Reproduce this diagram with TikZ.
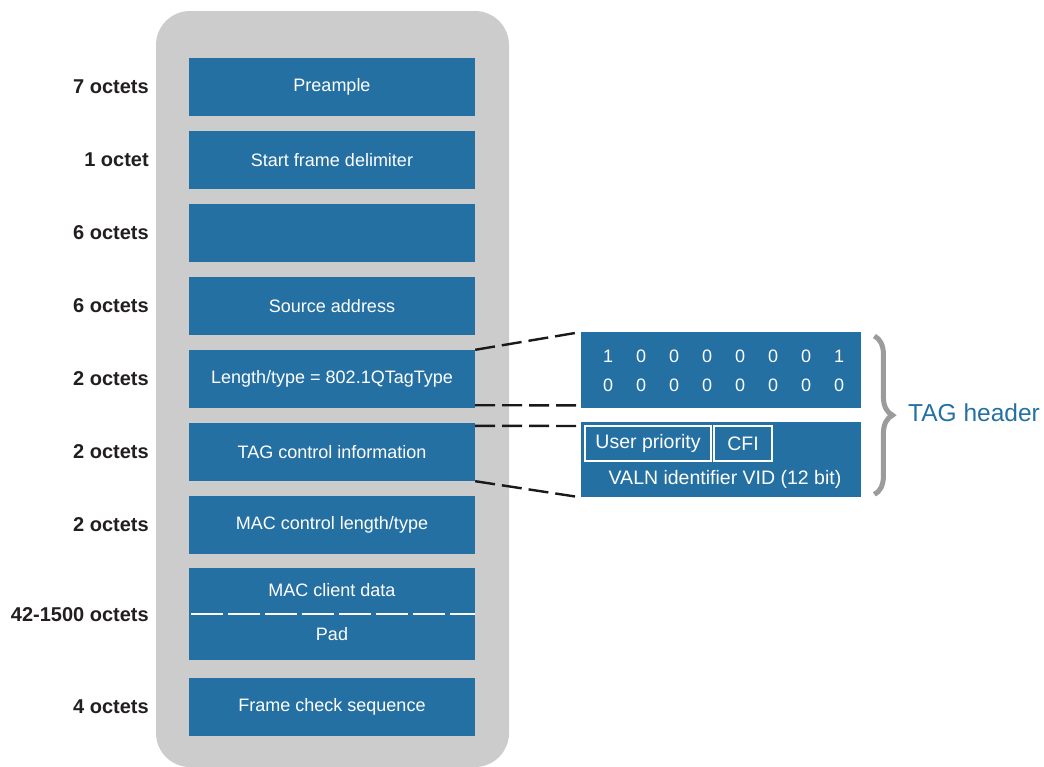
\documentclass[tikz,border=0pt]{standalone}
\usepackage{fontspec}
\setmainfont{Liberation Sans}
\usetikzlibrary{decorations.pathreplacing}
\definecolor{frameblue}{RGB}{37,112,162}
\definecolor{panelgray}{RGB}{204,204,204}
\definecolor{bracegray}{RGB}{155,155,155}
\definecolor{labeltext}{RGB}{35,31,32}
\tikzset{
  field/.style={fill=frameblue, text=white, inner sep=0pt, minimum width=286pt,
    minimum height=58pt, font=\fontsize{18}{21}\selectfont},
  fieldtext/.style={text=white, inner sep=0pt, font=\fontsize{18}{21}\selectfont},
  sizelabel/.style={anchor=east, inner sep=0pt, text=labeltext,
    font=\fontsize{20}{24}\bfseries},
  tagbox/.style={fill=frameblue, inner sep=0pt, minimum width=280pt, anchor=north west},
  tagtext/.style={text=white, inner sep=0pt, font=\fontsize{19.5}{22}\selectfont},
  subfield/.style={draw=white, line width=2pt, fill=frameblue, text=white, inner sep=0pt,
    anchor=north west, minimum height=35pt, font=\fontsize{19.5}{22}\selectfont},
  zoomline/.style={black!90, line width=2.4pt, dash pattern=on 20pt off 7pt},
}
\begin{document}
\begin{tikzpicture}[x=1pt,y=-1pt]
\useasboundingbox (0,0) rectangle (1044,766);

% frame background
\fill[panelgray, rounded corners=34pt] (156,11) rectangle (509,767);

% frame fields
\node[field] (pre) at (332,87) {Preample};
\node[field] (sfd) at (332,160) {Start frame delimiter};
\node[field] (dst) at (332,233) {};
\node[field] (src) at (332,306) {Source address};
\node[field] (len) at (332,379) {Length/type = 802.1QTagType};
\node[field] (tci) at (332,452) {TAG control information};
\node[field] (mct) at (332,525) {MAC control length/type};
\node[field, minimum height=92pt] (data) at (332,614) {};
\node[fieldtext] (datatxt) at (332,590) {MAC client data};
\node[fieldtext] (padtxt) at (332,634) {Pad};
\draw[white, line width=2pt, dash pattern=on 32pt off 5pt]
  ([xshift=2pt]data.west) -- (data.east);
\node[field] (fcs) at (332,707) {Frame check sequence};

% field sizes
\node[sizelabel] (l1) at (149,87) {7 octets};
\node[sizelabel] (l2) at (149,160) {1 octet};
\node[sizelabel] (l3) at (149,233) {6 octets};
\node[sizelabel] (l4) at (149,306) {6 octets};
\node[sizelabel] (l5) at (149,379) {2 octets};
\node[sizelabel] (l6) at (149,452) {2 octets};
\node[sizelabel] (l7) at (149,525) {2 octets};
\node[sizelabel] (l8) at (149,615) {42-1500 octets};
\node[sizelabel] (l9) at (149,707) {4 octets};

% expanded TAG header
\node[tagbox, minimum height=76pt] (tpid) at (581,332) {};
\foreach \b [count=\i from 0] in {1,0,0,0,0,0,0,1}
  \node[tagtext, font=\fontsize{18}{20}\selectfont] (hi\i) at (608+33*\i,356) {\b};
\foreach \b [count=\i from 0] in {0,0,0,0,0,0,0,0}
  \node[tagtext, font=\fontsize{18}{20}\selectfont] (lo\i) at (608+33*\i,385) {\b};

\node[tagbox, minimum height=75pt] (tcibox) at (581,422) {};
\node[subfield, minimum width=126pt] (prio) at (584,425) {User priority};
\node[subfield, minimum width=58pt] (cfi) at (713,425) {CFI\hspace{8pt}};
\node[tagtext] (vid) at (725,479) {VALN identifier VID (12 bit)};

% zoom connectors
\draw[zoomline] (len.north east) -- (tpid.north west);
\draw[zoomline] ([yshift=3pt]len.south east) -- ([yshift=3pt]tpid.south west);
\draw[zoomline] ([yshift=-3pt]tci.north east) -- ([yshift=-4pt]tcibox.north west);
\draw[zoomline] (tci.south east) -- (tcibox.south west);

% brace and caption
\draw[bracegray, line width=5pt, decorate, decoration={brace, amplitude=18pt}]
  ([xshift=13pt,yshift=-4pt]tpid.north east) -- ([xshift=13pt,yshift=3pt]tcibox.south east);
\node[anchor=west, inner sep=0pt, text=frameblue, font=\fontsize{24.5}{28}\selectfont]
  (taghdr) at (908,413) {TAG header};
\end{tikzpicture}
\end{document}
